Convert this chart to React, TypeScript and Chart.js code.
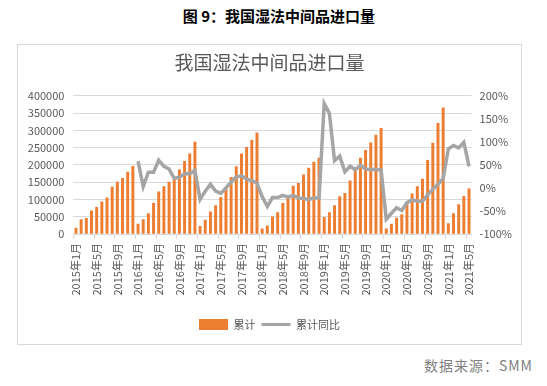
import React, { useEffect, useRef } from 'react';
import { Chart, registerables } from 'chart.js';

Chart.register(...registerables);

const startYear = 2015;
const monthCount = 77; // 2015年1月 … 2021年5月
const categories: string[] = [];
for (let i = 0; i < monthCount; i++) {
  const y = startYear + Math.floor(i / 12);
  const m = (i % 12) + 1;
  categories.push(`${y}年${m}月`);
}

// 累计 (吨)
const cumulative2015 = [17300, 42000, 45000, 67000, 77000, 93000, 105000, 136000, 150000, 161000, 179000, 196000];
const cumulative2016 = [29000, 42000, 59000, 89000, 122000, 137000, 150000, 159000, 186000, 210000, 232000, 266000];
const cumulative2017 = [22000, 40000, 64000, 82000, 106000, 134000, 164000, 195000, 232000, 251000, 271000, 293000];
const cumulative2018 = [15000, 24000, 50000, 62000, 89000, 104000, 139000, 147000, 171000, 191000, 208000, 220000];
const cumulative2019 = [48000, 62000, 82000, 108000, 118000, 154000, 183000, 220000, 242000, 264000, 286000, 306000];
const cumulative2020 = [15000, 29000, 46000, 56000, 91000, 116000, 137000, 159000, 213000, 263000, 320000, 365000];
const cumulative2021 = [30000, 59000, 85000, 109000, 131000];
const cumulative = [
  ...cumulative2015, ...cumulative2016, ...cumulative2017, ...cumulative2018,
  ...cumulative2019, ...cumulative2020, ...cumulative2021,
];

// 累计同比 (%)
const yoy2015: (number | null)[] = [null, null, null, null, null, null, null, null, null, null, null, null];
const yoy2016 = [58, 3, 34, 34, 60, 47, 41, 21, 23, 31, 31, 38];
const yoy2017 = [-25, -7, 8, -7, -12, 0, 13, 24, 26, 19, 16, 10];
const yoy2018 = [-19, -40, -21, -21, -16, -20, -16, -22, -23, -25, -22, -22];
const yoy2019 = [183, 162, 59, 69, 35, 47, 40, 49, 41, 40, 40, 39];
const yoy2020 = [-68, -55, -43, -49, -32, -26, -29, -29, -15, -3, 8, 20];
const yoy2021 = [85, 92, 87, 99, 47];
const yoy = [...yoy2015, ...yoy2016, ...yoy2017, ...yoy2018, ...yoy2019, ...yoy2020, ...yoy2021];

const leftTicks = { min: 0, max: 400000, step: 50000 };
const rightTicks = { min: -100, max: 200, step: 50 };

const FONT = '"Noto Sans CJK SC", "Noto Sans", sans-serif';
const ORANGE = '#ED7D31';
const GRAY = '#A5A5A5';
const TEXT = '#595959';

export default function App() {
  const ref = useRef<HTMLCanvasElement | null>(null);

  useEffect(() => {
    if (!ref.current) return;
    const chart = new Chart(ref.current, {
      type: 'bar',
      data: {
        labels: categories,
        datasets: [
          {
            type: 'bar',
            label: '累计',
            data: cumulative,
            backgroundColor: ORANGE,
            barThickness: 2.3,
            yAxisID: 'y',
            order: 2,
          },
          {
            type: 'line',
            label: '累计同比',
            data: yoy,
            borderColor: GRAY,
            backgroundColor: GRAY,
            borderWidth: 3.5,
            pointRadius: 0,
            tension: 0,
            yAxisID: 'y1',
            order: 1,
          },
        ],
      },
      options: {
        animation: false,
        responsive: false,
        maintainAspectRatio: false,
        layout: { padding: { left: 0, right: 0, top: 0, bottom: 4 } },
        plugins: {
          title: {
            display: true,
            text: '我国湿法中间品进口量',
            color: TEXT,
            font: { family: FONT, size: 19, weight: 'normal' },
            padding: { top: 6, bottom: 22 },
          },
          legend: {
            position: 'bottom',
            labels: {
              usePointStyle: true,
              pointStyleWidth: 29,
              boxHeight: 11,
              padding: 6,
              color: TEXT,
              font: { family: FONT, size: 11 },
              generateLabels: () => [
                {
                  text: '累计', fillStyle: ORANGE, strokeStyle: ORANGE, lineWidth: 0,
                  pointStyle: 'rect', hidden: false, datasetIndex: 0, fontColor: TEXT,
                },
                {
                  text: '累计同比', fillStyle: GRAY, strokeStyle: GRAY, lineWidth: 3,
                  pointStyle: 'line', hidden: false, datasetIndex: 1, fontColor: TEXT,
                },
              ] as any,
            },
          },
          tooltip: { enabled: false },
        },
        scales: {
          x: {
            offset: true,
            afterFit: (s: any) => { s.height = 79; },
            grid: {
              offset: true,
              drawOnChartArea: false,
              drawTicks: true,
              tickLength: 5,
              color: (ctx: any) => (ctx.index % 4 === 0 ? '#D9D9D9' : 'rgba(0,0,0,0)'),
            },
            border: { display: true, color: '#D9D9D9' },
            ticks: {
              autoSkip: false,
              maxRotation: 90,
              minRotation: 90,
              padding: 4,
              color: TEXT,
              font: { family: FONT, size: 11 },
              callback: (_v: any, i: number) => (i % 4 === 0 ? categories[i] : ''),
            },
          },
          y: {
            position: 'left',
            min: leftTicks.min,
            max: leftTicks.max,
            afterFit: (s: any) => { s.width = 55.4; },
            grid: { color: '#D9D9D9', drawTicks: false },
            border: { display: false },
            ticks: {
              stepSize: leftTicks.step,
              padding: 9,
              color: TEXT,
              font: { family: FONT, size: 11 },
              callback: (v: any) => String(v),
            },
          },
          y1: {
            position: 'right',
            min: rightTicks.min,
            max: rightTicks.max,
            afterFit: (s: any) => { s.width = 49.4; },
            grid: { drawOnChartArea: false, drawTicks: false },
            border: { display: false },
            ticks: {
              stepSize: rightTicks.step,
              padding: 8,
              color: TEXT,
              font: { family: FONT, size: 11 },
              callback: (v: any) => `${v}%`,
            },
          },
        },
      },
    });
    return () => chart.destroy();
  }, []);

  return (
    <div style={{ position: 'absolute', left: 0, top: 0, width: 547, height: 386, background: '#fff', fontFamily: FONT }}>
      <div style={{ position: 'absolute', left: 0, top: 5, width: 558, textAlign: 'center', fontSize: 15, fontWeight: 'bold', color: '#000', lineHeight: '22px' }}>
        图 9：我国湿法中间品进口量
      </div>
      <div style={{ position: 'absolute', left: 17, top: 44, width: 503, height: 299, border: '1px solid #D9D9D9' }}>
        <canvas ref={ref} width={503} height={299} style={{ display: 'block', width: 503, height: 299 }} />
      </div>
      <div style={{ position: 'absolute', right: 14, top: 355, fontSize: 14, letterSpacing: 1, color: '#7F7F7F', lineHeight: '20px' }}>
        数据来源：SMM
      </div>
    </div>
  );
}
